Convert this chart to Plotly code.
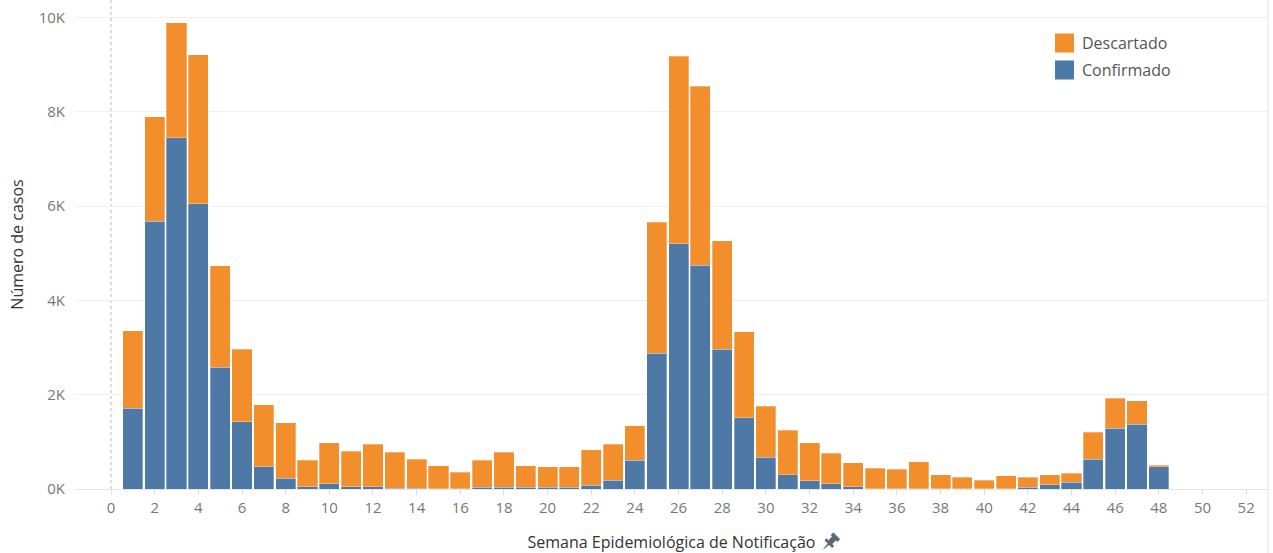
import math
import plotly.graph_objects as go

weeks = list(range(1, 49))
confirmado = [1711, 5684, 7450, 6050, 2580, 1428, 474, 226, 50, 113, 50, 50, 20, 20,
              10, 5, 40, 40, 40, 40, 40, 78, 190, 615, 2884, 5203, 4750, 2963, 1513, 672,
              304, 170, 113, 50, 10, 10, 10, 10, 3, 3, 10, 40, 85, 141, 636, 1286, 1371, 474]
total = [3357, 7890, 9884, 9210, 4730, 2963, 1789, 1400, 615, 976, 806, 954, 778, 636,
         495, 360, 608, 778, 495, 467, 467, 834, 947, 1343, 5656, 9175, 8540, 5260, 3330, 1760,
         1251, 976, 757, 558, 445, 417, 580, 304, 247, 190, 276, 247, 304, 332, 1202, 1930, 1873, 502]
descartado = [t - c for t, c in zip(total, confirmado)]

x_ticks = list(range(0, 53, 2))
y_ticks = [0, 2000, 4000, 6000, 8000, 10000]
y_labels = ["0K", "2K", "4K", "6K", "8K", "10K"]
series_names = ["Descartado", "Confirmado"]

BLUE = "#4E79A7"
ORANGE = "#F28E2B"
FONT = "Open Sans"

W, H = 1273, 553
ML, MR, MT, MB = 75, 5, 0, 64
PW, PH = W - ML - MR, H - MT - MB


def px(x):
    return (x - ML) / PW


def py(y):
    return (H - MB - y) / PH


fig = go.Figure()
fig.add_trace(go.Bar(x=weeks, y=confirmado, name="Confirmado",
                     marker=dict(color=BLUE, line=dict(color="rgba(255,255,255,0.5)", width=0.6))))
fig.add_trace(go.Bar(x=weeks, y=descartado, name="Descartado",
                     marker=dict(color=ORANGE, line=dict(color="rgba(255,255,255,0.5)", width=0.6))))

fig.update_layout(
    width=W, height=H,
    barmode="stack", bargap=0.08,
    plot_bgcolor="white", paper_bgcolor="white",
    margin=dict(l=ML, r=MR, t=MT, b=MB, autoexpand=False),
    font=dict(family=FONT, color="#666", size=13),
    showlegend=False,
    xaxis=dict(range=[-1.65, 53.0], tickvals=x_ticks, showgrid=False, zeroline=False,
               automargin=False,
               ticks="outside", ticklen=5, tickcolor="#ddd", showline=True, linecolor="#e6e6e6",
               tickfont=dict(size=15, color="#777"),
               title=dict(text="Semana Epidemiológica de Notificação", standoff=20,
                          font=dict(size=16, color="#333"))),
    yaxis=dict(range=[0, 10371], tickvals=y_ticks, ticktext=y_labels, showgrid=True,
               gridcolor="#efefef", zeroline=False, ticklabelstandoff=9, automargin=False,
               tickfont=dict(size=15, color="#777"),
               title=dict(text="Número de casos", standoff=11, font=dict(size=16, color="#333"))),
)

fig.add_shape(type="line", xref="x", yref="paper", x0=0, x1=0, y0=0, y1=1,
              line=dict(color="#bbb", width=1, dash="dot"), layer="below")
fig.add_shape(type="line", xref="paper", yref="paper", x0=1, x1=1, y0=py(H), y1=1,
              line=dict(color="#e3e3e3", width=1))

# legend (drawn manually)
for name, color, yc in [(series_names[0], ORANGE, 43), (series_names[1], BLUE, 70)]:
    fig.add_shape(type="rect", xref="paper", yref="paper",
                  x0=px(1055), x1=px(1074), y0=py(yc + 9.5), y1=py(yc - 9.5),
                  fillcolor=color, line=dict(width=0))
    fig.add_annotation(xref="paper", yref="paper", x=px(1080), y=py(yc), text=name,
                       showarrow=False, xanchor="left", yanchor="middle",
                       font=dict(size=16, color="#555", family=FONT))

# pin icon next to the axis title (drawn along a 45 degree axis)
ox, oy = 823.5, 549.0
dx, dy = math.sqrt(0.5), -math.sqrt(0.5)
nx, ny = math.sqrt(0.5), math.sqrt(0.5)
tw = [(0, 0), (7, 0.9), (7, 5.2), (9.5, 5.2), (9.5, 2.6), (15, 2.6), (15, 4.6), (18.5, 4.6),
      (18.5, -4.6), (15, -4.6), (15, -2.6), (9.5, -2.6), (9.5, -5.2), (7, -5.2), (7, -0.9)]
pts = [(ox + t * dx + w * nx, oy + t * dy + w * ny) for t, w in tw]
path = "M " + " L ".join(f"{px(x):.5f},{py(y):.5f}" for x, y in pts) + " Z"
fig.add_shape(type="path", xref="paper", yref="paper", path=path,
              fillcolor="#5b6676", line=dict(color="#5b6676", width=0.5))

fig.write_html("out.html", config={"displayModeBar": False},
               post_script="document.body.style.margin='0';document.body.style.overflow='hidden';")
